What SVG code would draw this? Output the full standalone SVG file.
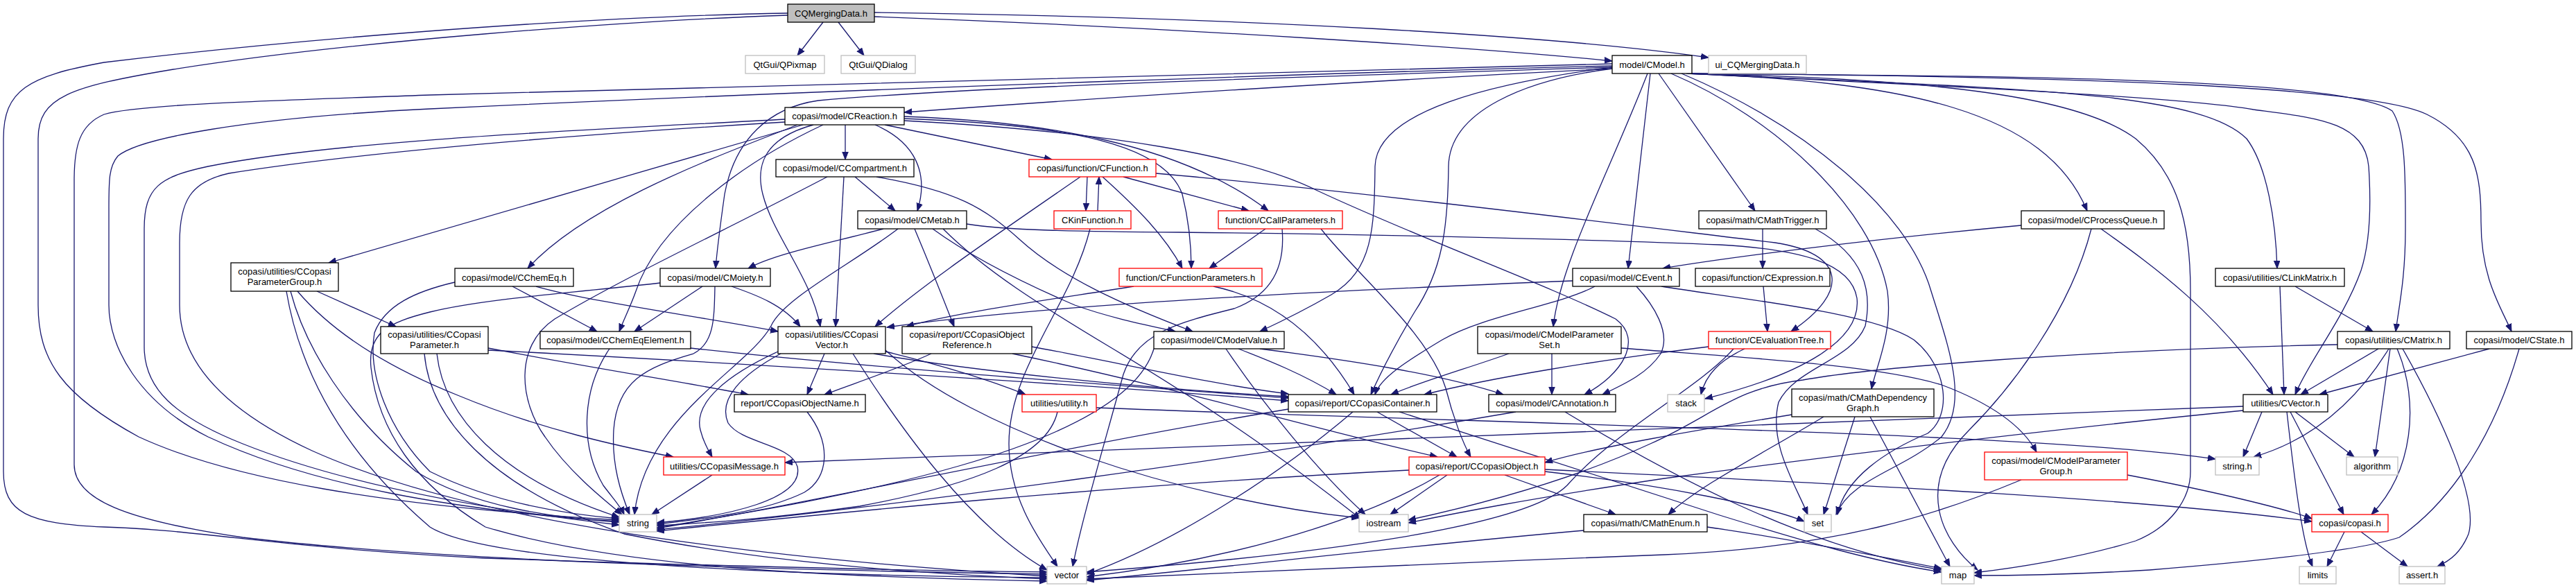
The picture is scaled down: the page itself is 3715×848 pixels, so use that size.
<svg xmlns="http://www.w3.org/2000/svg" width="3715" height="848" viewBox="0 0 3715 848">
<defs>
<marker id="ah" markerWidth="12" markerHeight="10" refX="11" refY="4.75" orient="auto" markerUnits="userSpaceOnUse"><path d="M0,0.5 L11,4.75 L0,9 z" fill="#191970" stroke="#191970" stroke-width="1"/></marker>
<style>
.e path{fill:none;stroke:#191970;stroke-width:1.3;marker-end:url(#ah)}
.n rect{fill:#fff;stroke:#000;stroke-width:1.3}
.n.r rect{stroke:#ff0000}
.n.x rect{stroke:#bfbfbf}
.n.root rect{fill:#bfbfbf}
text{font-family:"Liberation Sans",Arial,sans-serif;font-size:13px;text-anchor:middle;fill:#000}
</style>
</defs>
<rect width="3715" height="848" fill="#fff"/>
<g id="edges" class="e">
<path d="M1187,32 L1150,80"/>
<path d="M1209,32 L1246,80"/>
<path d="M1261,24 C1700,40 2150,70 2325,88"/>
<path d="M1261,18 C1800,25 2250,52 2464,83"/>
<path d="M1136,22 C900,30 500,60 250,100 C100,125 55,140 55,200 L55,440 C55,520 90,570 200,630 C330,690 550,730 893,750"/>
<path d="M1136,19 C800,25 400,60 150,90 C40,110 5,130 5,200 L5,680 C5,740 40,755 150,760 C300,765 400,790 700,805 C1000,815 1300,823 1510,825"/>
<path d="M2325,92 C2000,98 1400,115 620,137 C400,145 200,150 150,165 C115,180 107,210 107,260 L107,670 C107,720 180,750 350,775 C600,805 1000,820 1510,828"/>
<path d="M2325,95 C2000,103 1300,125 620,157 C350,170 200,200 170,225 C157,240 157,260 157,300 L157,440 C157,500 200,580 300,630 C450,700 650,735 893,753"/>
<path d="M2325,99 C2000,115 1600,140 1304,162"/>
<path d="M2325,97 C1900,110 1400,125 1180,145 C1110,155 1060,200 1045,280 C1038,330 1034,360 1032,387"/>
<path d="M2380,106 L2348,387"/>
<path d="M2376,106 C2320,250 2250,380 2240,471"/>
<path d="M2392,106 L2531,304"/>
<path d="M2410,106 C2560,170 2700,300 2722,420 C2730,480 2705,530 2699,561"/>
<path d="M2432,106 C2750,118 2950,160 3010,304"/>
<path d="M2434,106 C2900,128 3170,130 3240,200 C3270,240 3282,320 3284,387"/>
<path d="M2436,106 C2900,110 3380,112 3450,160 C3470,190 3469,260 3469,330 C3469,400 3460,440 3455,478"/>
<path d="M2435,106 C2800,124 3150,140 3250,158 C3340,170 3410,175 3416,240 C3420,300 3418,350 3405,390 C3380,460 3330,520 3310,569"/>
<path d="M2437,106 C3000,110 3420,125 3500,165 C3570,200 3578,250 3578,320 C3578,400 3605,440 3622,478"/>
<path d="M2325,99 C2200,115 2090,160 2089,240 C2088,330 2080,390 2040,450 C2010,500 1990,540 1977,569"/>
<path d="M2325,97 C2150,120 1985,160 1983,240 C1982,330 1980,390 1920,425 C1880,448 1845,465 1817,478"/>
<path d="M2438,106 C2800,114 3000,140 3080,200 C3140,250 3159,320 3159,420 L3159,680 C3159,720 3130,760 3080,780 C3000,805 2900,820 2847,826"/>
<path d="M2425,106 C2600,180 2750,300 2785,420 C2810,500 2840,580 2800,630 C2740,680 2670,690 2648,742"/>
<path d="M1219,180 L1219,230"/>
<path d="M1262,180 C1320,205 1340,250 1323,304"/>
<path d="M1276,180 L1517,230"/>
<path d="M1304,168 C1500,175 1700,205 1829,304"/>
<path d="M1304,171 C1550,180 1680,210 1705,280 C1715,320 1718,360 1718,387"/>
<path d="M1158,180 L474,379"/>
<path d="M1150,180 C1050,220 850,290 761,387"/>
<path d="M1187,180 C1080,230 950,320 917,420 C910,440 900,460 893,478"/>
<path d="M1173,180 C1100,200 1090,240 1100,280 C1115,340 1170,400 1183,471"/>
<path d="M1132,172 C900,185 500,200 300,240 C230,255 208,270 208,330 L208,500 C208,560 250,600 350,640 C500,700 700,735 893,757"/>
<path d="M1132,176 C900,190 550,215 330,250 C275,262 259,290 259,350 L259,440 C259,520 320,590 450,650 C650,740 1000,800 1510,831"/>
<path d="M1304,174 C1600,190 1800,225 1900,275 C2050,345 2230,410 2330,460 C2370,490 2340,540 2285,569"/>
<path d="M1233,255 L1291,304"/>
<path d="M1217,255 L1205,471"/>
<path d="M1193,255 C1050,330 900,400 800,460 C740,500 750,580 786,630 C820,680 870,720 897,742"/>
<path d="M1264,255 C1380,275 1420,300 1470,345 C1530,400 1620,440 1720,478"/>
<path d="M1568,255 L1566,304"/>
<path d="M1583,304 L1585,255"/>
<path d="M1620,255 L1801,304"/>
<path d="M1590,255 C1640,300 1680,340 1705,387"/>
<path d="M1558,255 C1450,330 1330,410 1262,471"/>
<path d="M1667,250 C1950,275 2350,325 2560,350 C2660,365 2670,420 2583,478"/>
<path d="M1572,330 C1545,440 1455,530 1455,640 C1455,720 1500,780 1525,817"/>
<path d="M1825,330 L1744,387"/>
<path d="M1849,330 C1855,400 1820,430 1780,445 C1700,465 1640,480 1620,540 C1590,650 1560,750 1547,817"/>
<path d="M1905,330 C1960,400 2060,480 2085,560 C2095,600 2110,640 2121,659"/>
<path d="M1750,413 C1830,430 1900,480 1953,569"/>
<path d="M1635,413 C1530,430 1380,450 1307,471"/>
<path d="M2542,330 L2542,387"/>
<path d="M2618,330 C2690,370 2700,420 2690,470 C2670,520 2590,530 2565,580 C2550,640 2590,700 2607,742"/>
<path d="M1274,330 C1200,350 1120,365 1079,387"/>
<path d="M1319,330 C1340,380 1360,430 1376,471"/>
<path d="M1345,330 C1400,370 1480,410 1550,440 C1600,458 1650,468 1695,478"/>
<path d="M1360,330 C1420,390 1500,440 1600,500 C1750,590 1850,660 1962,748"/>
<path d="M1394,323 C1450,332 1550,334 1700,335 C2000,338 2350,347 2480,353 C2600,360 2670,380 2678,430 C2685,490 2600,540 2459,575"/>
<path d="M1295,330 C1230,380 1130,430 1112,470 C1080,530 930,600 915,742"/>
<path d="M739,413 L861,478"/>
<path d="M773,413 C850,435 1000,455 1122,478"/>
<path d="M656,407 C600,420 555,440 540,480 C530,540 560,620 620,680 C700,720 800,740 893,748"/>
<path d="M1013,413 L915,478"/>
<path d="M1031,413 C1030,460 1030,495 1000,510 C930,530 890,550 885,620 C882,670 895,710 908,742"/>
<path d="M1055,413 C1090,425 1130,440 1154,471"/>
<path d="M952,408 C850,420 700,430 620,450 C560,465 530,480 535,530 C545,620 600,700 700,760 C900,820 1200,832 1510,838"/>
<path d="M457,420 L571,471"/>
<path d="M419,420 C440,500 500,600 600,680 C680,730 800,748 893,752"/>
<path d="M413,420 C430,520 480,640 620,760 C700,810 1100,830 1510,833"/>
<path d="M429,420 C480,480 560,530 660,570 C780,620 900,645 971,659"/>
<path d="M704,502 C850,530 980,550 1079,569"/>
<path d="M704,505 C1000,520 1500,550 1858,578"/>
<path d="M630,510 C640,600 720,690 893,746"/>
<path d="M612,510 C620,600 700,700 900,770 C1100,810 1300,826 1510,835"/>
<path d="M879,503 C840,560 835,640 870,700 C885,720 895,730 900,742"/>
<path d="M996,502 C1250,530 1600,555 1858,574"/>
<path d="M1189,510 L1164,569"/>
<path d="M1122,507 C1050,540 1000,580 1010,620 C1015,640 1022,650 1027,659"/>
<path d="M1277,507 C1350,525 1420,545 1479,569"/>
<path d="M1126,510 C1070,540 1035,575 1050,610 C1070,640 1140,640 1150,673 C1160,720 1050,745 947,754"/>
<path d="M1230,510 C1300,620 1400,760 1510,822"/>
<path d="M1260,510 C1400,535 1650,560 1858,572"/>
<path d="M1277,505 C1400,620 1700,720 1960,747"/>
<path d="M1343,510 C1300,530 1240,550 1189,569"/>
<path d="M1460,510 C1700,560 1900,620 2073,659"/>
<path d="M1488,500 C1600,520 1750,555 1858,568"/>
<path d="M1817,503 C1950,520 2080,540 2168,569"/>
<path d="M1786,503 C1830,520 1880,540 1927,569"/>
<path d="M1768,503 C1820,580 1900,680 1969,742"/>
<path d="M1664,503 C1620,650 1200,720 947,761"/>
<path d="M2238,510 L2238,569"/>
<path d="M2176,510 C2120,530 2050,550 2006,569"/>
<path d="M2338,502 C2500,515 2700,525 2800,555 C2880,585 2920,620 2937,652"/>
<path d="M2268,405 C1900,420 1500,440 1279,472"/>
<path d="M2360,413 C2385,440 2410,480 2395,510 C2375,540 2340,555 2311,569"/>
<path d="M2300,413 C2250,440 2140,455 2080,490 C2030,520 1990,545 1983,569"/>
<path d="M2396,413 C2500,430 2700,450 2760,490 C2810,530 2815,600 2780,625 C2720,650 2660,690 2650,742"/>
<path d="M2915,325 C2700,345 2500,370 2398,387"/>
<path d="M3030,330 C3100,380 3200,450 3278,569"/>
<path d="M3016,330 C2985,450 2900,560 2840,620 C2760,700 2800,780 2852,822"/>
<path d="M3590,503 L3345,569"/>
<path d="M3633,503 C3600,620 3540,720 3460,775 C3400,795 3250,810 3100,822 C3000,828 2900,830 2847,830"/>
<path d="M3310,413 L3422,478"/>
<path d="M3288,413 L3294,569"/>
<path d="M3430,503 L3318,569"/>
<path d="M3445,503 C3410,560 3350,630 3250,659"/>
<path d="M3447,503 L3425,659"/>
<path d="M3457,503 C3490,580 3480,680 3420,742"/>
<path d="M3465,503 C3520,600 3575,720 3560,770 C3550,795 3535,808 3515,817"/>
<path d="M3371,497 C3000,505 2700,530 2600,548 C2500,560 2470,600 2380,640 C2250,700 2100,735 2031,750"/>
<path d="M3262,594 L3235,659"/>
<path d="M3310,594 L3395,659"/>
<path d="M3303,594 L3380,742"/>
<path d="M3298,594 C3310,700 3320,780 3335,817"/>
<path d="M3235,586 C2500,610 1800,640 1132,667"/>
<path d="M3235,592 C3000,615 2700,650 2400,690 C2200,720 2100,740 2031,754"/>
<path d="M3381,767 L3356,817"/>
<path d="M3405,767 L3472,817"/>
<path d="M1581,588 C2200,612 2950,625 3195,662"/>
<path d="M1525,594 C1510,660 1400,700 1240,730 C1100,750 1000,755 947,758"/>
<path d="M1164,594 C1200,640 1195,690 1160,710 C1100,740 1000,750 947,756"/>
<path d="M1027,685 L940,742"/>
<path d="M1986,594 L2101,659"/>
<path d="M2018,594 L2480,743 C2600,780 2700,810 2800,825"/>
<path d="M1951,594 C1850,680 1700,780 1567,828"/>
<path d="M1858,590 C1500,650 1200,720 947,762"/>
<path d="M2257,594 C2400,680 2600,790 2800,822"/>
<path d="M2186,594 C1800,660 1300,730 947,764"/>
<path d="M2228,677 C2700,700 3100,720 3334,752"/>
<path d="M2170,685 L2330,742"/>
<path d="M2087,685 L2005,742"/>
<path d="M2032,678 C1600,700 1200,740 947,766"/>
<path d="M2076,685 C1950,760 1750,810 1567,832"/>
<path d="M2228,680 C2400,700 2550,730 2602,752"/>
<path d="M2675,601 L2630,742"/>
<path d="M2697,601 L2812,817"/>
<path d="M2584,598 C2450,620 2300,645 2228,667"/>
<path d="M2630,601 C2550,650 2450,700 2406,742"/>
<path d="M2915,692 C2800,740 2650,790 2400,800 C2100,812 1750,825 1567,835"/>
<path d="M3068,685 C3200,710 3300,735 3334,748"/>
<path d="M2284,765 C2000,790 1800,815 1567,837"/>
<path d="M2462,760 C2600,780 2750,810 2800,820"/>
<path d="M2516,503 C2480,520 2460,540 2453,569"/>
<path d="M2464,500 C2300,520 2150,545 2054,569"/>
<path d="M2500,503 C2450,560 2330,620 2260,700 C2200,760 1900,800 1567,825"/>
<path d="M2543,413 L2549,478"/>
</g>
<g id="n_CQMergingData" class="n root"><rect x="1136" y="6" width="125" height="26"/><text x="1198.5" y="23.5">CQMergingData.h</text></g>
<g id="n_QPixmap" class="n x"><rect x="1075" y="80" width="114" height="26"/><text x="1132" y="97.5">QtGui/QPixmap</text></g>
<g id="n_QDialog" class="n x"><rect x="1213" y="80" width="107" height="26"/><text x="1266.5" y="97.5">QtGui/QDialog</text></g>
<g id="n_CModel" class="n"><rect x="2325" y="80" width="115" height="26"/><text x="2382.5" y="97.5">model/CModel.h</text></g>
<g id="n_ui" class="n x"><rect x="2464" y="80" width="141" height="26"/><text x="2534.5" y="97.5">ui_CQMergingData.h</text></g>
<g id="n_CReaction" class="n"><rect x="1132" y="155" width="172" height="25"/><text x="1218" y="172">copasi/model/CReaction.h</text></g>
<g id="n_CCompartment" class="n"><rect x="1119" y="230" width="199" height="25"/><text x="1218.5" y="247">copasi/model/CCompartment.h</text></g>
<g id="n_CFunction" class="n r"><rect x="1484" y="230" width="183" height="25"/><text x="1575.5" y="247">copasi/function/CFunction.h</text></g>
<g id="n_CMetab" class="n"><rect x="1237" y="304" width="157" height="26"/><text x="1315.5" y="321.5">copasi/model/CMetab.h</text></g>
<g id="n_CKinFunction" class="n r"><rect x="1520" y="304" width="111" height="26"/><text x="1575.5" y="321.5">CKinFunction.h</text></g>
<g id="n_CCallParameters" class="n r"><rect x="1757" y="304" width="179" height="26"/><text x="1846.5" y="321.5">function/CCallParameters.h</text></g>
<g id="n_CMathTrigger" class="n"><rect x="2450" y="304" width="184" height="26"/><text x="2542" y="321.5">copasi/math/CMathTrigger.h</text></g>
<g id="n_CProcessQueue" class="n"><rect x="2915" y="304" width="206" height="26"/><text x="3018" y="321.5">copasi/model/CProcessQueue.h</text></g>
<g id="n_CCopasiParameterGroup" class="n"><rect x="333" y="379" width="155" height="41"/><text x="410.5" y="396">copasi/utilities/CCopasi</text><text x="410.5" y="411">ParameterGroup.h</text></g>
<g id="n_CChemEq" class="n"><rect x="656" y="387" width="171" height="26"/><text x="741.5" y="404.5">copasi/model/CChemEq.h</text></g>
<g id="n_CMoiety" class="n"><rect x="952" y="387" width="159" height="26"/><text x="1031.5" y="404.5">copasi/model/CMoiety.h</text></g>
<g id="n_CFunctionParameters" class="n r"><rect x="1614" y="387" width="206" height="26"/><text x="1717" y="404.5">function/CFunctionParameters.h</text></g>
<g id="n_CEvent" class="n"><rect x="2268" y="387" width="154" height="26"/><text x="2345" y="404.5">copasi/model/CEvent.h</text></g>
<g id="n_CExpression" class="n"><rect x="2445" y="387" width="194" height="26"/><text x="2542" y="404.5">copasi/function/CExpression.h</text></g>
<g id="n_CLinkMatrix" class="n"><rect x="3195" y="387" width="186" height="26"/><text x="3288" y="404.5">copasi/utilities/CLinkMatrix.h</text></g>
<g id="n_CCopasiParameter" class="n"><rect x="549" y="471" width="155" height="39"/><text x="626.5" y="487">copasi/utilities/CCopasi</text><text x="626.5" y="502">Parameter.h</text></g>
<g id="n_CChemEqElement" class="n"><rect x="779" y="478" width="217" height="25"/><text x="887.5" y="495">copasi/model/CChemEqElement.h</text></g>
<g id="n_CCopasiVector" class="n"><rect x="1122" y="471" width="155" height="39"/><text x="1199.5" y="487">copasi/utilities/CCopasi</text><text x="1199.5" y="502">Vector.h</text></g>
<g id="n_CCopasiObjectReference" class="n"><rect x="1301" y="471" width="187" height="39"/><text x="1394.5" y="487">copasi/report/CCopasiObject</text><text x="1394.5" y="502">Reference.h</text></g>
<g id="n_CModelValue" class="n"><rect x="1664" y="478" width="188" height="25"/><text x="1758" y="495">copasi/model/CModelValue.h</text></g>
<g id="n_CModelParameterSet" class="n"><rect x="2131" y="471" width="207" height="39"/><text x="2234.5" y="487">copasi/model/CModelParameter</text><text x="2234.5" y="502">Set.h</text></g>
<g id="n_CEvaluationTree" class="n r"><rect x="2464" y="478" width="176" height="25"/><text x="2552" y="495">function/CEvaluationTree.h</text></g>
<g id="n_CMatrix" class="n"><rect x="3371" y="478" width="162" height="25"/><text x="3452" y="495">copasi/utilities/CMatrix.h</text></g>
<g id="n_CState" class="n"><rect x="3557" y="478" width="152" height="25"/><text x="3633" y="495">copasi/model/CState.h</text></g>
<g id="n_CCopasiObjectName" class="n"><rect x="1059" y="569" width="189" height="25"/><text x="1153.5" y="586">report/CCopasiObjectName.h</text></g>
<g id="n_utility" class="n r"><rect x="1474" y="569" width="107" height="25"/><text x="1527.5" y="586">utilities/utility.h</text></g>
<g id="n_CCopasiContainer" class="n"><rect x="1858" y="569" width="214" height="25"/><text x="1965" y="586">copasi/report/CCopasiContainer.h</text></g>
<g id="n_CAnnotation" class="n"><rect x="2147" y="569" width="183" height="25"/><text x="2238.5" y="586">copasi/model/CAnnotation.h</text></g>
<g id="n_stack" class="n x"><rect x="2405" y="569" width="53" height="25"/><text x="2431.5" y="586">stack</text></g>
<g id="n_CMathDependencyGraph" class="n"><rect x="2584" y="561" width="205" height="40"/><text x="2686.5" y="578">copasi/math/CMathDependency</text><text x="2686.5" y="593">Graph.h</text></g>
<g id="n_CVector" class="n"><rect x="3235" y="569" width="122" height="25"/><text x="3296" y="586">utilities/CVector.h</text></g>
<g id="n_CCopasiMessage" class="n r"><rect x="957" y="659" width="175" height="26"/><text x="1044.5" y="676.5">utilities/CCopasiMessage.h</text></g>
<g id="n_CCopasiObject" class="n r"><rect x="2032" y="659" width="196" height="26"/><text x="2130" y="676.5">copasi/report/CCopasiObject.h</text></g>
<g id="n_CModelParameterGroup" class="n r"><rect x="2862" y="652" width="206" height="40"/><text x="2965" y="669">copasi/model/CModelParameter</text><text x="2965" y="684">Group.h</text></g>
<g id="n_string_h" class="n x"><rect x="3195" y="659" width="63" height="26"/><text x="3226.5" y="676.5">string.h</text></g>
<g id="n_algorithm" class="n x"><rect x="3384" y="659" width="74" height="26"/><text x="3421" y="676.5">algorithm</text></g>
<g id="n_string" class="n x"><rect x="893" y="742" width="54" height="25"/><text x="920" y="759">string</text></g>
<g id="n_iostream" class="n x"><rect x="1960" y="742" width="71" height="25"/><text x="1995.5" y="759">iostream</text></g>
<g id="n_CMathEnum" class="n"><rect x="2284" y="742" width="178" height="25"/><text x="2373" y="759">copasi/math/CMathEnum.h</text></g>
<g id="n_set" class="n x"><rect x="2602" y="742" width="39" height="25"/><text x="2621.5" y="759">set</text></g>
<g id="n_copasi_h" class="n r"><rect x="3334" y="742" width="110" height="25"/><text x="3389" y="759">copasi/copasi.h</text></g>
<g id="n_vector" class="n x"><rect x="1510" y="817" width="57" height="25"/><text x="1538.5" y="834">vector</text></g>
<g id="n_map" class="n x"><rect x="2800" y="817" width="47" height="25"/><text x="2823.5" y="834">map</text></g>
<g id="n_limits" class="n x"><rect x="3316" y="817" width="53" height="25"/><text x="3342.5" y="834">limits</text></g>
<g id="n_assert_h" class="n x"><rect x="3460" y="817" width="66" height="25"/><text x="3493" y="834">assert.h</text></g>
</svg>
